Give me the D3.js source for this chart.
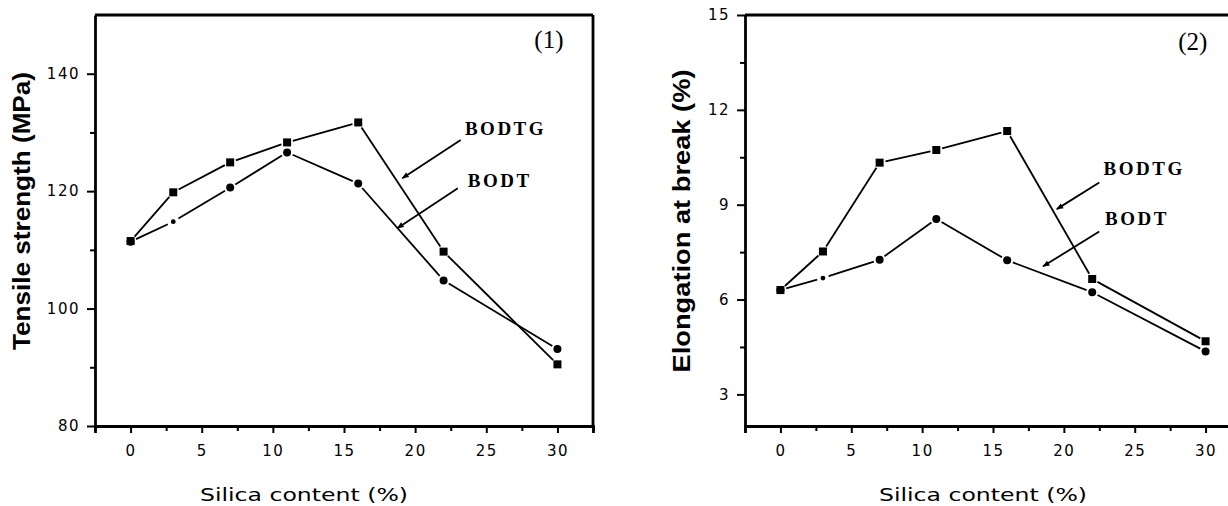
<!DOCTYPE html>
<html>
<head>
<meta charset="utf-8">
<script src="https://cdn.jsdelivr.net/npm/d3@7"></script>
<style>
  body { margin: 0; background: #fff; }
  svg { display: block; }
</style>
</head>
<body>
<svg width="1228" height="506"></svg>
<script>
// silica content (%) shared by both panels
const silica = [0, 3, 7, 11, 16, 22, 30];
const x_ticks = [0, 5, 10, 15, 20, 25, 30];
const x_minor = [-2.5, 2.5, 7.5, 12.5, 17.5, 22.5, 27.5, 32.5];

// panel (1) tensile strength, MPa
const tensile_bodtg = [111.5, 119.8, 124.9, 128.3, 131.7, 109.7, 90.5];
const tensile_bodt = [111.4, 114.8, 120.6, 126.6, 121.3, 104.8, 93.1];
const tensile_ticks = [80, 100, 120, 140];
const tensile_minor = [90, 110, 130];

// panel (2) elongation at break, %
const elong_bodtg = [6.3, 7.52, 10.33, 10.73, 11.33, 6.65, 4.68];
const elong_bodt = [6.3, 6.68, 7.26, 8.55, 7.24, 6.23, 4.36];
const elong_ticks = [3, 6, 9, 12, 15];
const elong_minor = [4.5, 7.5, 10.5, 13.5];

const svg = d3.select("svg");

svg.append("defs")
    .append("marker")
    .attr("id", "arrow")
    .attr("viewBox", "0 0 10 10")
    .attr("refX", 9)
    .attr("refY", 5)
    .attr("markerWidth", 10)
    .attr("markerHeight", 7)
    .attr("markerUnits", "userSpaceOnUse")
    .attr("orient", "auto")
    .append("path")
    .attr("d", "M0,1 L10,5 L0,9 Z")
    .attr("fill", "#000");

const panels = [
    {
        x_range: [95, 593],
        y_range: [426, 15],
        y_domain: [80, 150],
        y_ticks: tensile_ticks,
        y_minor: tensile_minor,
        series: [tensile_bodtg, tensile_bodt],
        y_label: "Tensile strength (MPa)",
        y_label_x: 22,
        y_label_y: 211,
        y_label_len: 278,
        x_label_x: 304,
        tag: "(1)",
        tag_at: [29.4, 144.4],
        notes: [
            { text: "BODTG", at: [23.5, 129.6], from: [23.2, 128.7], to: [19.1, 122.2] },
            { text: "BODT", at: [23.7, 120.7], from: [23.0, 120.5], to: [18.75, 113.7] }
        ]
    },
    {
        x_range: [745, 1241],
        y_range: [426, 15],
        y_domain: [2, 15],
        y_ticks: elong_ticks,
        y_minor: elong_minor,
        series: [elong_bodtg, elong_bodt],
        y_label: "Elongation at break (%)",
        y_label_x: 682,
        y_label_y: 221,
        y_label_len: 303,
        x_label_x: 983,
        tag: "(2)",
        tag_at: [29.1, 13.9],
        notes: [
            { text: "BODTG", at: [22.8, 9.94], from: [22.5, 9.7], to: [19.5, 8.86] },
            { text: "BODT", at: [22.9, 8.37], from: [22.5, 8.15], to: [18.53, 7.05] }
        ]
    }
];

const tick_font = "'DejaVu Sans', sans-serif";

const drawPanel = (p) => {
    const g = svg.append("g");
    const x = d3.scaleLinear().domain([-2.5, 32.5]).range(p.x_range);
    const y = d3.scaleLinear().domain(p.y_domain).range(p.y_range);
    const [x0, x1] = p.x_range;
    const [y0, y1] = p.y_range;

    // frame top and right
    g.append("line").attr("x1", x0).attr("x2", x1).attr("y1", y1).attr("y2", y1)
        .attr("stroke", "#000").attr("stroke-width", 2.8);
    g.append("line").attr("x1", x1).attr("x2", x1).attr("y1", y1).attr("y2", y0)
        .attr("stroke", "#000").attr("stroke-width", 2.8);

    // minor ticks
    g.append("g")
        .attr("transform", `translate(0,${y0})`)
        .call(d3.axisBottom(x).tickValues(x_minor).tickSize(5).tickFormat(""))
        .call((a) => a.select(".domain").remove());
    g.append("g")
        .attr("transform", `translate(${x0},0)`)
        .call(d3.axisLeft(y).tickValues(p.y_minor).tickSize(5).tickFormat(""))
        .call((a) => a.select(".domain").remove());

    // major axes
    const xa = g.append("g")
        .attr("transform", `translate(0,${y0})`)
        .call(d3.axisBottom(x).tickValues(x_ticks).tickSize(7).tickSizeOuter(7).tickPadding(12));
    const ya = g.append("g")
        .attr("transform", `translate(${x0},0)`)
        .call(d3.axisLeft(y).tickValues(p.y_ticks).tickSize(8).tickSizeOuter(0).tickPadding(7));

    [xa, ya].forEach((a) => {
        a.select(".domain").attr("stroke-width", 2.8);
        a.selectAll("text")
            .attr("font-family", tick_font)
            .attr("font-size", 15)
            .attr("letter-spacing", "1.5px")
            .attr("fill", "#000");
    });
    g.selectAll(".tick line").attr("stroke", "#000").attr("stroke-width", 2);

    // axis titles
    g.append("text")
        .attr("transform", `translate(${p.y_label_x},${p.y_label_y}) rotate(-90)`)
        .attr("text-anchor", "middle")
        .attr("dy", "0.35em")
        .attr("font-family", "'Liberation Sans', Arial, sans-serif")
        .attr("font-weight", "bold")
        .attr("font-size", 24)
        .attr("textLength", p.y_label_len)
        .attr("lengthAdjust", "spacingAndGlyphs")
        .text(p.y_label);

    g.append("text")
        .attr("x", p.x_label_x)
        .attr("y", 501)
        .attr("text-anchor", "middle")
        .attr("font-family", tick_font)
        .attr("font-size", 18)
        .attr("textLength", 208)
        .attr("lengthAdjust", "spacingAndGlyphs")
        .text("Silica content (%)");

    // series lines, with small gaps at the markers
    const gap = 6;
    p.series.forEach((vals) => {
        const pts = silica.map((s, i) => [x(s), y(vals[i])]);
        d3.pairs(pts).forEach(([a, b]) => {
            const dx = b[0] - a[0];
            const dy = b[1] - a[1];
            const len = Math.hypot(dx, dy);
            const ux = dx / len;
            const uy = dy / len;
            g.append("line")
                .attr("x1", a[0] + ux * gap)
                .attr("y1", a[1] + uy * gap)
                .attr("x2", b[0] - ux * gap)
                .attr("y2", b[1] - uy * gap)
                .attr("stroke", "#000")
                .attr("stroke-width", 1.8);
        });
    });

    // markers: squares for BODTG, circles for BODT
    g.selectAll(".sq")
        .data(silica)
        .enter()
        .append("rect")
        .attr("x", (d) => x(d) - 4)
        .attr("y", (d, i) => y(p.series[0][i]) - 4)
        .attr("width", 8)
        .attr("height", 8)
        .attr("fill", "#000");
    g.selectAll(".ci")
        .data(silica)
        .enter()
        .append("circle")
        .attr("cx", (d) => x(d))
        .attr("cy", (d, i) => y(p.series[1][i]))
        .attr("r", (d) => (d === 3 ? 2.4 : 4))
        .attr("fill", "#000");

    // panel tag
    g.append("text")
        .attr("x", x(p.tag_at[0]))
        .attr("y", y(p.tag_at[1]))
        .attr("text-anchor", "middle")
        .attr("font-family", "'Liberation Serif', 'Times New Roman', serif")
        .attr("font-size", 25)
        .text(p.tag);

    // callouts
    p.notes.forEach((n) => {
        g.append("line")
            .attr("x1", x(n.from[0]))
            .attr("y1", y(n.from[1]))
            .attr("x2", x(n.to[0]))
            .attr("y2", y(n.to[1]))
            .attr("stroke", "#000")
            .attr("stroke-width", 1.8)
            .attr("marker-end", "url(#arrow)");
        g.append("text")
            .attr("x", x(n.at[0]))
            .attr("y", y(n.at[1]))
            .attr("font-family", "'Liberation Serif', 'Times New Roman', serif")
            .attr("font-weight", "bold")
            .attr("font-size", 19)
            .attr("letter-spacing", "2.5px")
            .text(n.text);
    });
};

panels.forEach(drawPanel);
</script>
</body>
</html>
